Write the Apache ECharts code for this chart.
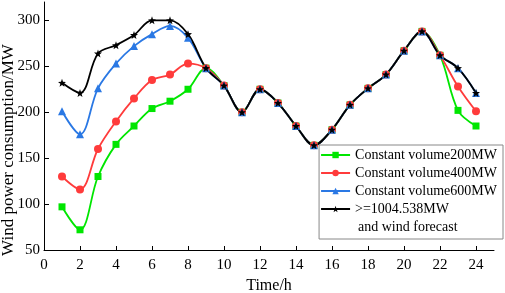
<!DOCTYPE html>
<html>
<head>
<meta charset="utf-8">
<script src="https://cdn.jsdelivr.net/npm/echarts@6/dist/echarts.min.js"></script>
<style>
  html, body { margin: 0; padding: 0; background: #fff; }
  #main { width: 505px; height: 293px; }
</style>
</head>
<body>
<div id="main"></div>
<script>
  // hours 1..24
  var hours = [1,2,3,4,5,6,7,8,9,10,11,12,13,14,15,16,17,18,19,20,21,22,23,24];
  var vol200 = [97,72,130,165,185,204,212,225,248,229,200,225,210,185,164,181,208,226,241,267,288,262,202,185];
  var vol400 = [130,116,160,190,215,235,241,253,248,229,200,225,210,185,164,181,208,226,241,267,288,262,228,201];
  var vol600 = [201,176,226,253,272,285,294,281,248,229,200,225,210,185,164,181,208,226,241,267,288,262,248,221];
  var volMax = [232,221,264,273,284,300,300,285,248,229,200,225,210,185,164,181,208,226,241,267,288,262,248,221];
  var names = ['Constant volume200MW', 'Constant volume400MW', 'Constant volume600MW', '>=1004.538MW'];

  var font = '"Liberation Serif", "Times New Roman", serif';

  function pairs(vals) {
    return hours.map(function (h, i) { return [h, vals[i]]; });
  }

  function mkSeries(name, vals, color, symbol, size) {
    return {
      name: name,
      type: 'line',
      smooth: 0.35,
      data: pairs(vals),
      symbol: symbol,
      symbolSize: size,
      itemStyle: { color: color },
      lineStyle: { color: color, width: 1.8 }
    };
  }

  var chart = echarts.init(document.getElementById('main'));
  chart.setOption({
    animation: false,
    backgroundColor: '#fff',
    grid: { left: 44, right: 11, top: 2, bottom: 43, outerBoundsMode: 'none' },
    legend: {
      data: names,
      right: 2,
      top: 145,
      orient: 'vertical',
      itemWidth: 29,
      itemHeight: 8,
      itemGap: 4,
      itemTextGap: 7,
      padding: [3, 6, 23, 1],
      borderColor: '#888',
      borderWidth: 1,
      backgroundColor: '#fff',
      textStyle: { fontFamily: font, fontSize: 14, color: '#000' }
    },
    graphic: [{
      type: 'text',
      left: 358,
      top: 220,
      z: 100,
      style: { text: 'and wind forecast', font: '14px ' + font, fill: '#000' }
    }],
    xAxis: {
      type: 'value',
      min: 0,
      max: 25,
      interval: 2,
      name: 'Time/h',
      nameLocation: 'middle',
      nameGap: 28,
      nameMoveOverlap: false,
      nameTextStyle: { fontFamily: font, fontSize: 16, color: '#000' },
      axisLine: { lineStyle: { color: '#000', width: 1 } },
      axisTick: { inside: true, length: 4, lineStyle: { color: '#000' } },
      axisLabel: { fontFamily: font, fontSize: 15, color: '#000', margin: 8, showMaxLabel: false },
      splitLine: { show: false }
    },
    yAxis: {
      type: 'value',
      min: 50,
      max: 320,
      interval: 50,
      name: 'Wind power consumption/MW',
      nameLocation: 'middle',
      nameGap: 27,
      nameMoveOverlap: false,
      nameTextStyle: { fontFamily: font, fontSize: 17, lineHeight: 17, color: '#000', padding: [0, 48, 0, 0] },
      axisLine: { show: true, lineStyle: { color: '#000', width: 1 } },
      axisTick: { show: true, inside: true, length: 5, lineStyle: { color: '#000' } },
      axisLabel: { fontFamily: font, fontSize: 15, color: '#000', margin: 4, showMaxLabel: false },
      splitLine: { show: false }
    },
    series: [
      mkSeries(names[0], vol200, '#00e600', 'rect', 7),
      mkSeries(names[1], vol400, '#ff3b3b', 'circle', 8),
      mkSeries(names[2], vol600, '#2a78e4', 'triangle', 8),
      mkSeries(names[3], volMax, '#000000', 'path://M0,-10 L2.4,-3.3 L9.5,-3.1 L3.9,1.3 L5.9,8.1 L0,4.1 L-5.9,8.1 L-3.9,1.3 L-9.5,-3.1 L-2.4,-3.3 Z', 8)
    ]
  });
</script>
</body>
</html>
